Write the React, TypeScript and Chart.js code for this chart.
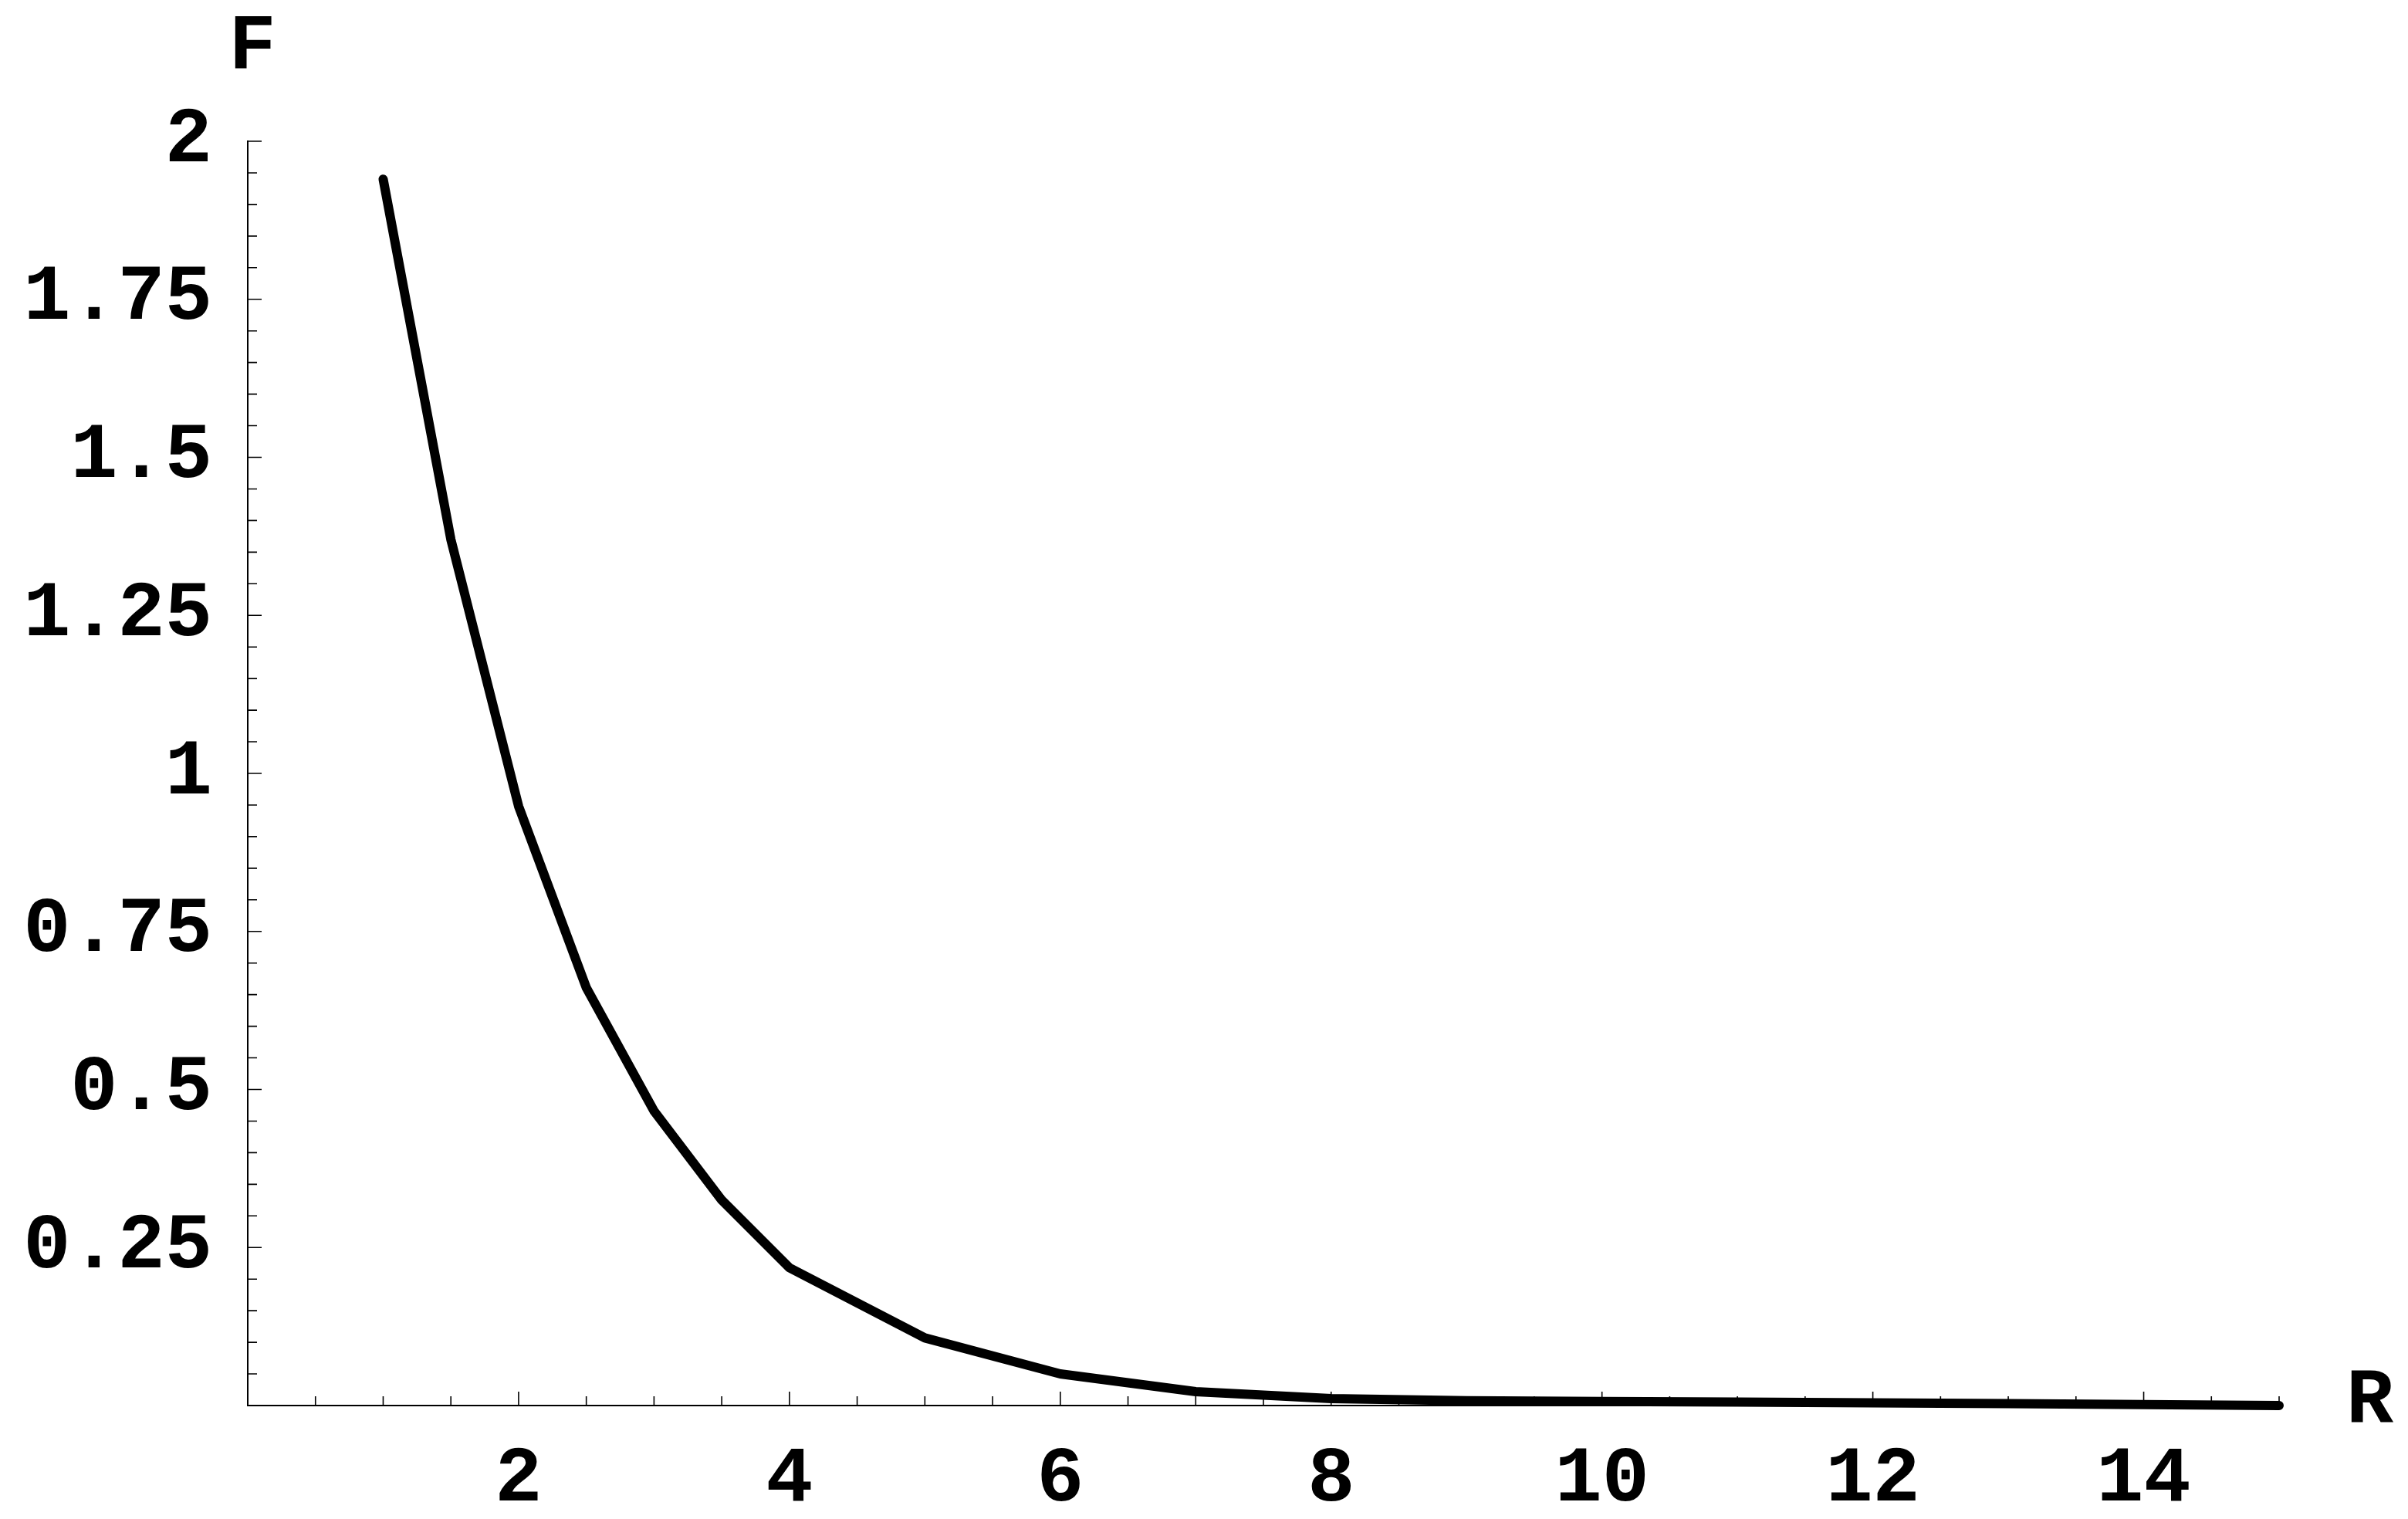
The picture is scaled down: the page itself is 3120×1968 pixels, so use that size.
import React, { useEffect, useRef } from "react";
import { Chart, registerables } from "chart.js";

Chart.register(...registerables);

// Data
const rValues: number[] = [1, 1.5, 2, 2.5, 3, 3.5, 4, 5, 6, 7, 8, 9, 10, 11, 12, 13, 14, 15];
const fValues: number[] = [1.94, 1.37, 0.948, 0.661, 0.466, 0.325, 0.218, 0.107, 0.05, 0.022, 0.011, 0.0075, 0.0065, 0.0055, 0.0042, 0.003, 0.0015, 0.0];

const xTickLabels: number[] = [2, 4, 6, 8, 10, 12, 14];
const yTickLabels: number[] = [0.25, 0.5, 0.75, 1, 1.25, 1.5, 1.75, 2];
const xAxisTitle = "R";
const yAxisTitle = "F";

const FONT_FAMILY = "'Liberation Mono', 'Courier New', monospace";
const FONT_SIZE = 102;

const near = (a: number, b: number) => Math.abs(a - b) < 1e-6;

const axisDecor = {
  id: "axisDecor",
  beforeDatasetsDraw(chart: any) {
    const ctx = chart.ctx;
    const xs = chart.scales.x;
    const ys = chart.scales.y;
    const x0 = xs.getPixelForValue(0);
    const y0 = ys.getPixelForValue(0);
    ctx.save();
    ctx.strokeStyle = "#000";
    ctx.lineWidth = 1.6;
    ctx.beginPath();
    for (const t of xs.ticks) {
      const v = t.value;
      if (near(v, 0)) continue;
      const major = xTickLabels.some((m) => near(m, v));
      const len = major ? 18 : 12;
      const px = xs.getPixelForValue(v);
      ctx.moveTo(px, y0);
      ctx.lineTo(px, y0 - len);
    }
    for (const t of ys.ticks) {
      const v = t.value;
      if (near(v, 0)) continue;
      const major = yTickLabels.some((m) => near(m, v));
      const len = major ? 18 : 12;
      const py = ys.getPixelForValue(v);
      ctx.moveTo(x0, py);
      ctx.lineTo(x0 + len, py);
    }
    ctx.stroke();
    ctx.restore();
  },
  afterDraw(chart: any) {
    const ctx = chart.ctx;
    const xs = chart.scales.x;
    const ys = chart.scales.y;
    ctx.save();
    ctx.fillStyle = "#000";
    ctx.font = `bold ${FONT_SIZE}px ${FONT_FAMILY}`;
    ctx.textBaseline = "middle";
    ctx.textAlign = "center";
    ctx.fillText(yAxisTitle, xs.getPixelForValue(0) + 6, 62);
    ctx.textAlign = "left";
    ctx.fillText(xAxisTitle, 3040, ys.getPixelForValue(0) - 4);
    ctx.restore();
  },
};

export default function App() {
  const ref = useRef<HTMLCanvasElement | null>(null);

  useEffect(() => {
    document.body.style.margin = "0";
    const canvas = ref.current;
    if (!canvas) return;
    const chart = new Chart(canvas, {
      type: "line",
      data: {
        datasets: [
          {
            data: rValues.map((r, i) => ({ x: r, y: fValues[i] })),
            borderColor: "#000",
            borderWidth: 12,
            pointRadius: 0,
            tension: 0,
            fill: false,
            borderCapStyle: "round",
            borderJoinStyle: "round",
            clip: false as any,
          },
        ],
      },
      options: {
        animation: false,
        responsive: false,
        maintainAspectRatio: false,
        events: [],
        layout: { padding: { top: 183, right: 167, left: 0, bottom: 0 } },
        plugins: {
          legend: { display: false },
          tooltip: { enabled: false },
          title: { display: false },
        },
        scales: {
          x: {
            type: "linear",
            min: 0,
            max: 15,
            afterFit(scale: any) {
              scale.height = 147;
            },
            grid: { display: false, drawTicks: false },
            border: { display: true, color: "#000", width: 2 },
            ticks: {
              stepSize: 0.5,
              autoSkip: false,
              maxRotation: 0,
              minRotation: 0,
              padding: 36,
              color: "#000",
              font: { family: FONT_FAMILY, size: FONT_SIZE, weight: "bold" },
              callback: (v: any) => {
                const n = Number(v);
                return xTickLabels.some((m) => near(m, n)) ? String(Math.round(n)) : "";
              },
            },
          },
          y: {
            type: "linear",
            min: 0,
            max: 2,
            afterFit(scale: any) {
              scale.width = 321;
            },
            grid: { display: false, drawTicks: false },
            border: { display: true, color: "#000", width: 2 },
            ticks: {
              stepSize: 0.05,
              autoSkip: false,
              padding: 46,
              color: "#000",
              font: { family: FONT_FAMILY, size: FONT_SIZE, weight: "bold" },
              callback: (v: any) => {
                const n = Number(v);
                const hit = yTickLabels.find((m) => near(m, n));
                return hit !== undefined ? String(hit) : "";
              },
            },
          },
        },
      } as any,
      plugins: [axisDecor],
    });
    return () => chart.destroy();
  }, []);

  return (
    <canvas
      ref={ref}
      width={3120}
      height={1968}
      style={{ position: "absolute", left: 0, top: 0, width: 3120, height: 1968, display: "block" }}
    />
  );
}
